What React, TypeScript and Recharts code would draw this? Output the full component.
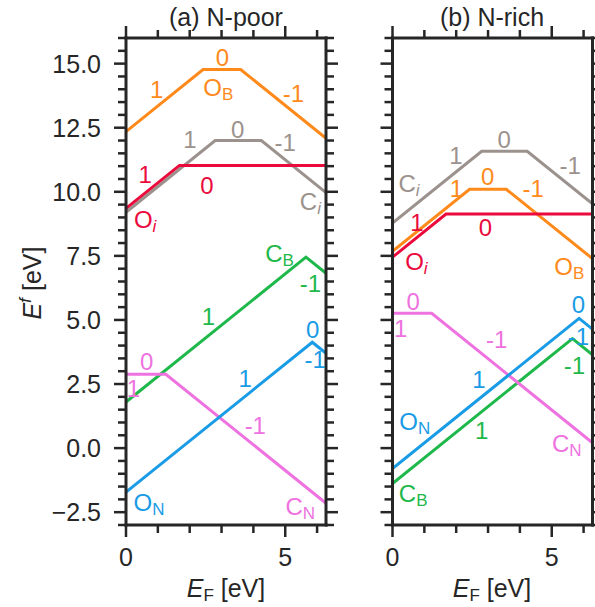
import { LineChart, Line, XAxis, YAxis, ReferenceDot } from 'recharts'

const INK = '#262626'
const FONT = '"Liberation Sans", Arial, Helvetica, sans-serif'

// one colour per defect
const colors: Record<string, string> = {
  OB: '#ff8a1c',
  Ci: '#9c928d',
  Oi: '#ea0a3c',
  CB: '#1fb84b',
  ON: '#1a9be6',
  CN: '#ee72df',
}

// axes
const xDomain = [0, 6.28]
const yDomain = [-3, 16]
const xTicks = [0, 1, 2, 3, 4, 5, 6]
const xLabelled = [0, 5]
const yTicks = [
  -3, -2.5, -2, -1.5, -1, -0.5, 0, 0.5, 1, 1.5, 2, 2.5, 3, 3.5, 4, 4.5, 5, 5.5, 6, 6.5,
  7, 7.5, 8, 8.5, 9, 9.5, 10, 10.5, 11, 11.5, 12, 12.5, 13, 13.5, 14, 14.5, 15, 15.5, 16,
]
const yLabelled = [-2.5, 0, 2.5, 5, 7.5, 10, 12.5, 15]

// formation energy breakpoints [E_F, E^f] -- N-poor
const poorCi = [[0, 9.2], [2.8, 12.0], [4.25, 12.0], [6.28, 9.97]]
const poorOB = [[0, 12.35], [2.42, 14.77], [3.6, 14.77], [6.28, 12.09]]
const poorOi = [[0, 9.35], [1.68, 11.03], [6.28, 11.03]]
const poorCB = [[0, 1.8], [5.65, 7.45], [6.28, 6.82]]
const poorCN = [[0, 2.88], [1.25, 2.88], [6.28, -2.15]]
const poorON = [[0, -1.72], [5.85, 4.13], [6.28, 3.7]]

// N-rich
const richCi = [[0, 8.78], [2.8, 11.58], [4.23, 11.58], [6.28, 9.53]]
const richOB = [[0, 7.68], [2.42, 10.1], [3.57, 10.1], [6.28, 7.39]]
const richOi = [[0, 7.45], [1.68, 9.13], [6.28, 9.13]]
const richCB = [[0, -1.38], [5.65, 4.27], [6.28, 3.64]]
const richCN = [[0, 5.26], [1.23, 5.26], [6.28, 0.21]]
const richON = [[0, -0.8], [5.86, 5.06], [6.28, 4.64]]

type Note = { x: number; y: number; t: string; sub?: string; k: string }

// charge states and defect names, anchored in data coords
const poorNotes: Note[] = [
  { x: 0.96, y: 13.98, t: '1', k: 'OB' },
  { x: 3.03, y: 15.22, t: '0', k: 'OB' },
  { x: 2.9, y: 14.05, t: 'O', sub: 'B', k: 'OB' },
  { x: 5.26, y: 13.82, t: '-1', k: 'OB' },
  { x: 2.01, y: 12.03, t: '1', k: 'Ci' },
  { x: 3.51, y: 12.42, t: '0', k: 'Ci' },
  { x: 5.0, y: 11.94, t: '-1', k: 'Ci' },
  { x: 5.79, y: 9.62, t: 'C', sub: 'i', k: 'Ci' },
  { x: 0.6, y: 10.66, t: '1', k: 'Oi' },
  { x: 2.54, y: 10.23, t: '0', k: 'Oi' },
  { x: 0.6, y: 8.93, t: 'O', sub: 'i', k: 'Oi' },
  { x: 4.82, y: 7.6, t: 'C', sub: 'B', k: 'CB' },
  { x: 5.79, y: 6.43, t: '-1', k: 'CB' },
  { x: 2.59, y: 5.13, t: '1', k: 'CB' },
  { x: 5.86, y: 4.61, t: '0', k: 'ON' },
  { x: 5.94, y: 3.44, t: '-1', k: 'ON' },
  { x: 3.74, y: 2.72, t: '1', k: 'ON' },
  { x: 0.72, y: -2.14, t: 'O', sub: 'N', k: 'ON' },
  { x: 0.65, y: 3.37, t: '0', k: 'CN' },
  { x: 0.23, y: 2.33, t: '1', k: 'CN' },
  { x: 4.06, y: 0.87, t: '-1', k: 'CN' },
  { x: 5.47, y: -2.27, t: 'C', sub: 'N', k: 'CN' },
]

const richNotes: Note[] = [
  { x: 0.52, y: 10.34, t: 'C', sub: 'i', k: 'Ci' },
  { x: 1.99, y: 11.42, t: '1', k: 'Ci' },
  { x: 3.51, y: 12.03, t: '0', k: 'Ci' },
  { x: 5.58, y: 11.03, t: '-1', k: 'Ci' },
  { x: 2.01, y: 10.14, t: '1', k: 'OB' },
  { x: 2.99, y: 10.6, t: '0', k: 'OB' },
  { x: 4.42, y: 10.14, t: '-1', k: 'OB' },
  { x: 5.55, y: 7.08, t: 'O', sub: 'B', k: 'OB' },
  { x: 0.77, y: 8.82, t: '1', k: 'Oi' },
  { x: 2.92, y: 8.61, t: '0', k: 'Oi' },
  { x: 0.75, y: 7.28, t: 'O', sub: 'i', k: 'Oi' },
  { x: 0.65, y: 5.71, t: '0', k: 'CN' },
  { x: 0.26, y: 4.68, t: '1', k: 'CN' },
  { x: 3.27, y: 4.22, t: '-1', k: 'CN' },
  { x: 5.47, y: 0.18, t: 'C', sub: 'N', k: 'CN' },
  { x: 5.84, y: 5.59, t: '0', k: 'ON' },
  { x: 5.84, y: 4.35, t: '-1', k: 'ON' },
  { x: 2.71, y: 2.66, t: '1', k: 'ON' },
  { x: 0.7, y: 1.03, t: 'O', sub: 'N', k: 'ON' },
  { x: 5.71, y: 3.24, t: '-1', k: 'CB' },
  { x: 2.8, y: 0.7, t: '1', k: 'CB' },
  { x: 0.65, y: -1.77, t: 'C', sub: 'B', k: 'CB' },
]

const poorSeries: [string, number[][]][] = [
  ['Ci', poorCi], ['OB', poorOB], ['Oi', poorOi], ['CB', poorCB], ['CN', poorCN], ['ON', poorON],
]
const richSeries: [string, number[][]][] = [
  ['Ci', richCi], ['OB', richOB], ['Oi', richOi], ['CB', richCB], ['CN', richCN], ['ON', richON],
]

const isIn = (v: number, list: number[]) => list.some(m => Math.abs(m - v) < 1e-6)

const fmtY = (v: number) => (v < 0 ? '\u2212' : '') + Math.abs(v).toFixed(1)

function XTick(props: any) {
  const { x, y, payload, up, showLabel } = props
  const major = isIn(payload.value, xLabelled)
  const len = major ? 12 : 8
  const d = up ? -1 : 1
  return (
    <g>
      <line x1={x} y1={y} x2={x} y2={y + d * len} stroke={INK} strokeWidth={2.5} />
      {showLabel && major && (
        <text x={x} y={y + 41} textAnchor="middle" fontSize={25} fill={INK} fontFamily={FONT}>
          {payload.value}
        </text>
      )}
    </g>
  )
}

function YTick(props: any) {
  const { x, y, payload, right, showLabel } = props
  const major = isIn(payload.value, yLabelled)
  const len = major ? 12 : 8
  const d = right ? 1 : -1
  return (
    <g>
      <line x1={x} y1={y} x2={x + d * len} y2={y} stroke={INK} strokeWidth={2.5} />
      {showLabel && major && (
        <text x={x - 25} y={y + 9} textAnchor="end" fontSize={25} fill={INK} fontFamily={FONT}>
          {fmtY(payload.value)}
        </text>
      )}
    </g>
  )
}

function NoteText({ cx, cy, note }: { cx: number; cy: number; note: Note }) {
  return (
    <text x={cx} y={cy + 8.5} textAnchor="middle" fontSize={24} fill={colors[note.k]} fontFamily={FONT}>
      {note.t}
      {note.sub && (
        <tspan fontSize={17} dy={4} fontStyle={note.sub === 'i' ? 'italic' : 'normal'}>
          {note.sub}
        </tspan>
      )}
    </text>
  )
}

const frame = { stroke: INK, strokeWidth: 3, strokeLinecap: 'square' as const }

function Panel({ series, notes, leftW, rightW, width, yLabels }: {
  series: [string, number[][]][]
  notes: Note[]
  leftW: number
  rightW: number
  width: number
  yLabels: boolean
}) {
  return (
    <LineChart width={width} height={607} margin={{ top: 0, right: 0, bottom: 0, left: 0 }}>
      <XAxis xAxisId="b" orientation="bottom" type="number" dataKey="x" domain={xDomain} allowDataOverflow
             ticks={xTicks} interval={0} height={82} tickSize={0} tickMargin={0}
             axisLine={frame} tickLine={false} tick={<XTick showLabel />} />
      <XAxis xAxisId="t" orientation="top" type="number" dataKey="x" domain={xDomain} allowDataOverflow
             ticks={xTicks} interval={0} height={38} tickSize={0} tickMargin={0}
             axisLine={frame} tickLine={false} tick={<XTick up />} />
      <YAxis yAxisId="l" orientation="left" type="number" domain={yDomain} allowDataOverflow
             ticks={yTicks} interval={0} width={leftW} tickSize={0} tickMargin={0}
             axisLine={frame} tickLine={false} tick={<YTick showLabel={yLabels} />} />
      <YAxis yAxisId="r" orientation="right" type="number" domain={yDomain} allowDataOverflow
             ticks={yTicks} interval={0} width={rightW} tickSize={0} tickMargin={0}
             axisLine={frame} tickLine={false} tick={<YTick right />} />
      {series.map(([k, pts]) => (
        <Line key={k} xAxisId="b" yAxisId="l" data={pts.map(([x, y]) => ({ x, y }))} dataKey="y"
              type="linear" stroke={colors[k]} strokeWidth={3} dot={false} isAnimationActive={false} />
      ))}
      {notes.map((n, i) => (
        <ReferenceDot key={i} xAxisId="b" yAxisId="l" x={n.x} y={n.y} r={0}
                      shape={(p: any) => <NoteText cx={p.cx} cy={p.cy} note={n} />} />
      ))}
    </LineChart>
  )
}

export default function App() {
  return (
    <div style={{ position: 'absolute', left: 0, top: 0, width: 595, height: 607, background: '#fff', overflow: 'hidden' }}>
      <div style={{ position: 'absolute', left: 0, top: 0 }}>
        <Panel series={poorSeries} notes={poorNotes} leftW={126} rightW={14} width={340} yLabels />
      </div>
      <div style={{ position: 'absolute', left: 340, top: 0 }}>
        <Panel series={richSeries} notes={richNotes} leftW={52.5} rightW={2.5} width={255} yLabels={false} />
      </div>
      <svg width={595} height={607} style={{ position: 'absolute', left: 0, top: 0, pointerEvents: 'none' }}
           fontFamily={FONT} fill={INK} fontSize={25}>
        <text x={226} y={26} textAnchor="middle">(a) N-poor</text>
        <text x={492} y={26} textAnchor="middle">(b) N-rich</text>
        <text x={226} y={597} textAnchor="middle">
          <tspan fontStyle="italic">E</tspan>
          <tspan fontSize={17} dy={4}>F</tspan>
          <tspan dy={-4}> [eV]</tspan>
        </text>
        <text x={492} y={597} textAnchor="middle">
          <tspan fontStyle="italic">E</tspan>
          <tspan fontSize={17} dy={4}>F</tspan>
          <tspan dy={-4}> [eV]</tspan>
        </text>
        <text x={41} y={283} textAnchor="middle" transform="rotate(-90 41 283)">
          <tspan fontStyle="italic">E</tspan>
          <tspan fontSize={17} dy={-10} fontStyle="italic">f</tspan>
          <tspan dy={10}> [eV]</tspan>
        </text>
      </svg>
    </div>
  )
}
